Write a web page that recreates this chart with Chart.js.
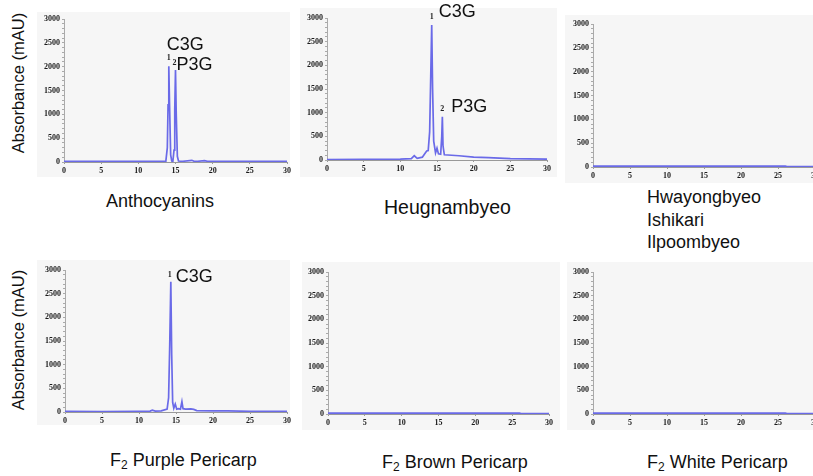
<!DOCTYPE html>
<html>
<head>
<meta charset="utf-8">
<script src="https://cdn.jsdelivr.net/npm/chart.js@4"></script>
<style>
  body { margin: 0; width: 813px; height: 476px; overflow: hidden; background: #fff; font-family: "Liberation Sans", Arial, sans-serif; position: relative; }
  .box { position: absolute; background: #f6f6f6; }
  canvas { position: absolute; }
  .cap { position: absolute; font-size: 18px; color: #111; white-space: nowrap; }
  .ytitle { position: absolute; font-size: 16.5px; color: #111; white-space: nowrap; transform: translate(-50%, -50%) rotate(-90deg); }
  sub { font-size: 12px; vertical-align: -3px; }
</style>
</head>
<body>
<div class="ytitle" style="left:18px; top:83px;">Absorbance (mAU)</div>
<div class="ytitle" style="left:18px; top:340px;">Absorbance (mAU)</div>

<div class="cap" style="left:106px; top:191px;">Anthocyanins</div>
<div class="cap" style="left:384px; top:196px; font-size:19.5px;">Heugnambyeo</div>
<div class="cap" style="left:647px; top:186px; line-height:22.5px;">Hwayongbyeo<br>Ishikari<br>Ilpoombyeo</div>
<div class="cap" style="left:110px; top:450px;">F<sub>2</sub> Purple Pericarp</div>
<div class="cap" style="left:382px; top:452px;">F<sub>2</sub> Brown Pericarp</div>
<div class="cap" style="left:647px; top:452px;">F<sub>2</sub> White Pericarp</div>

<script>
// retention time (min) and absorbance (mAU)
const timeAntho = [0, 2, 5, 8, 10, 12, 13, 13.7, 13.9, 14.0, 14.1, 14.2, 14.35, 14.5, 14.65, 14.8, 14.9, 15.0, 15.1, 15.25, 15.4, 16, 17.2, 17.5, 18, 18.9, 19.3, 22, 25, 30];
const absAntho = [15, 15, 12, 12, 12, 12, 12, 15, 300, 1200, 2010, 1200, 150, 20, 15, 250, 1100, 1930, 1000, 120, 20, 15, 35, 15, 15, 30, 15, 12, 12, 12];

const timeHeug = [0, 5, 10, 11.5, 11.9, 12.3, 13, 13.4, 13.6, 13.8, 14.0, 14.15, 14.28, 14.4, 14.55, 14.8, 15.0, 15.2, 15.5, 15.65, 15.73, 15.82, 16.0, 17, 18, 20, 22, 25, 30];
const absHeug = [10, 12, 20, 30, 90, 35, 60, 150, 190, 200, 600, 1800, 2850, 1500, 400, 150, 250, 130, 120, 500, 915, 300, 110, 100, 90, 60, 50, 30, 20];

const timeHwa = [0, 10, 20, 26, 26.2, 30];
const absHwa = [20, 20, 18, 18, 8, 8];

const timePurple = [0, 5, 10, 11.5, 11.8, 12.2, 13, 13.8, 14.0, 14.15, 14.3, 14.42, 14.55, 14.7, 14.9, 15.1, 15.3, 15.6, 15.8, 15.95, 16.3, 17, 17.4, 17.8, 20, 22, 25, 30];
const absPurple = [12, 10, 15, 20, 40, 20, 25, 60, 300, 1400, 2750, 1200, 200, 80, 170, 60, 70, 60, 220, 70, 60, 65, 55, 30, 25, 22, 15, 12];

const timeBrown = [0, 10, 20, 26, 26.2, 30];
const absBrown = [20, 20, 18, 18, 8, 8];

const timeWhite = [0, 10, 20, 26, 26.2, 30];
const absWhite = [20, 20, 18, 18, 8, 8];

// peak labels
const peaksAntho = ["C3G", "P3G"];
const peakTimesAntho = [14.1, 15.0];
const peakAbsAntho = [2010, 1930];
const peaksHeug = ["C3G", "P3G"];
const peakTimesHeug = [14.28, 15.73];
const peakAbsHeug = [2850, 915];
const peaksPurple = ["C3G"];
const peakTimesPurple = [14.3];
const peakAbsPurple = [2750];

const yTicks = [0, 500, 1000, 1500, 2000, 2500, 3000];
const xTicks = [0, 5, 10, 15, 20, 25, 30];

const lineColor = "#6a6ae8";
const PAD_TOP = 18, PAD_RIGHT = 8, Y_W = 30, X_H = 16;

const panels = [
  { x0: 64, x30: 287, yTop: 19, yBot: 162, box: [37, 12, 253, 165], t: timeAntho, v: absAntho,
    peaks: peaksAntho, pt: peakTimesAntho, pv: peakAbsAntho, off: [[-2, -21, 0, -6], [1, -5, -1, -5]] },
  { x0: 327, x30: 547, yTop: 18, yBot: 160, box: [300, 8, 257, 169], t: timeHeug, v: absHeug,
    peaks: peaksHeug, pt: peakTimesHeug, pv: peakAbsHeug, off: [[7, -13, 0, -6], [9, -10, 0, -6]] },
  { x0: 593, x30: 815, yTop: 24, yBot: 167, box: [565, 15, 248, 168], t: timeHwa, v: absHwa,
    peaks: [], pt: [], pv: [], off: [] },
  { x0: 65, x30: 287, yTop: 270, yBot: 412, box: [37, 260, 253, 165], t: timePurple, v: absPurple,
    peaks: peaksPurple, pt: peakTimesPurple, pv: peakAbsPurple, off: [[5, -5, -1, -5]] },
  { x0: 328, x30: 549, yTop: 272, yBot: 414, box: [302, 262, 258, 168], t: timeBrown, v: absBrown,
    peaks: [], pt: [], pv: [], off: [] },
  { x0: 593, x30: 815, yTop: 272, yBot: 414, box: [567, 262, 246, 168], t: timeWhite, v: absWhite,
    peaks: [], pt: [], pv: [], off: [] },
];

const peakLabelPlugin = {
  id: "peakLabels",
  afterDatasetsDraw(chart, args, opts) {
    const ctx = chart.ctx;
    const xs = chart.scales.x, ys = chart.scales.y;
    ctx.save();
    opts.names.forEach((name, i) => {
      const px = xs.getPixelForValue(opts.times[i]);
      const py = ys.getPixelForValue(opts.values[i]);
      const o = opts.offsets[i];
      // peak number
      ctx.font = "bold 8px 'Liberation Serif'";
      ctx.fillStyle = "#222";
      ctx.textAlign = "center";
      ctx.textBaseline = "alphabetic";
      ctx.fillText(String(i + 1), px + o[2], py + o[3]);
      // compound name
      ctx.font = "18px 'Liberation Sans'";
      ctx.fillStyle = "#111";
      ctx.textAlign = "left";
      ctx.textBaseline = "middle";
      ctx.fillText(name, px + o[0], py + o[1]);
    });
    ctx.restore();
  },
};

panels.forEach((p) => {
  const box = document.createElement("div");
  box.className = "box";
  box.style.left = p.box[0] + "px";
  box.style.top = p.box[1] + "px";
  box.style.width = p.box[2] + "px";
  box.style.height = p.box[3] + "px";
  document.body.appendChild(box);

  const canvas = document.createElement("canvas");
  const w = Y_W + (p.x30 - p.x0) + PAD_RIGHT;
  const h = PAD_TOP + (p.yBot - p.yTop) + X_H;
  canvas.style.left = (p.x0 - Y_W) + "px";
  canvas.style.top = (p.yTop - PAD_TOP) + "px";
  canvas.style.width = w + "px";
  canvas.style.height = h + "px";
  canvas.width = w;
  canvas.height = h;
  document.body.appendChild(canvas);

  new Chart(canvas, {
    type: "line",
    data: {
      datasets: [
        {
          data: p.t.map((t, i) => ({ x: t, y: p.v[i] })),
          borderColor: lineColor,
          borderWidth: 1.7,
          pointRadius: 0,
          tension: 0,
          fill: false,
        },
      ],
    },
    options: {
      responsive: false,
      animation: false,
      layout: { padding: { top: PAD_TOP, right: PAD_RIGHT, left: 0, bottom: 0 } },
      plugins: {
        legend: { display: false },
        tooltip: { enabled: false },
        peakLabels: { names: p.peaks, times: p.pt, values: p.pv, offsets: p.off },
      },
      scales: {
        x: {
          type: "linear",
          min: 0,
          max: 30,
          afterFit: (s) => { s.height = X_H; },
          afterBuildTicks: (s) => { s.ticks = xTicks.map((v) => ({ value: v })); },
          border: { color: "#999", width: 1 },
          grid: { drawOnChartArea: false, tickLength: 2, color: "#999" },
          ticks: {
            padding: 2,
            color: "#1a1a1a",
            font: { family: "Liberation Serif", weight: "bold", size: 8 },
            maxRotation: 0,
            autoSkip: false,
          },
        },
        y: {
          min: 0,
          max: 3000,
          afterFit: (s) => { s.width = Y_W; },
          border: { color: "#aaa", width: 1 },
          grid: { drawOnChartArea: false, tickLength: 2, color: "#aaa" },
          ticks: {
            stepSize: 100,
            autoSkip: false,
            padding: 2,
            color: "#1a1a1a",
            font: { family: "Liberation Serif", weight: "bold", size: 8 },
            callback: (v) => (yTicks.includes(v) ? v : ""),
          },
        },
      },
    },
    plugins: [peakLabelPlugin],
  });
});
</script>
</body>
</html>
